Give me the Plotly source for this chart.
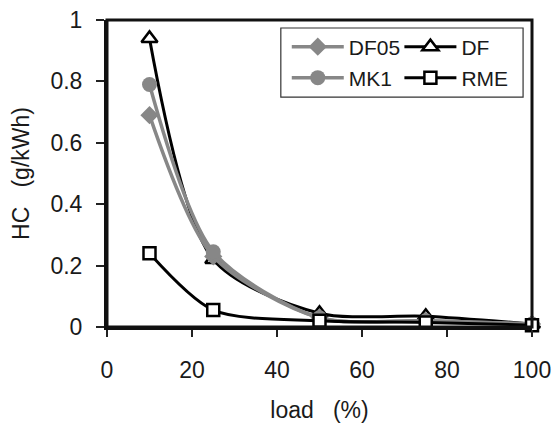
import plotly.graph_objects as go

load = [10, 25, 50, 75, 100]
df05 = [0.69, 0.23, 0.03, 0.02, 0.01]
df = [0.94, 0.22, 0.045, 0.035, 0.01]
mk1 = [0.79, 0.245, 0.03, 0.02, 0.01]
rme = [0.24, 0.055, 0.02, 0.015, 0.006]

x_ticks = [0, 20, 40, 60, 80, 100]
y_ticks = [0, 0.2, 0.4, 0.6, 0.8, 1]
y_tick_text = ["0", "0.2", "0.4", "0.6", "0.8", "1"]

GRAY = "#878787"
FONT = "Liberation Sans, Arial, sans-serif"
TXT = "#1a1a1a"

fig = go.Figure()
fig.add_trace(go.Scatter(x=load, y=df, name="DF", mode="lines+markers",
                         line=dict(color="black", width=3, shape="spline", smoothing=0.8),
                         marker=dict(symbol="triangle-up", size=14, color="white",
                                     line=dict(color="black", width=2.5)),
                         legend="legend2", cliponaxis=False))
fig.add_trace(go.Scatter(x=load, y=df05, name="DF05", mode="lines+markers",
                         line=dict(color=GRAY, width=3.5, shape="spline", smoothing=0.8),
                         marker=dict(symbol="diamond", size=14, color=GRAY),
                         legend="legend", cliponaxis=False))
fig.add_trace(go.Scatter(x=load, y=mk1, name="MK1", mode="lines+markers",
                         line=dict(color=GRAY, width=3.5, shape="spline", smoothing=0.8),
                         marker=dict(symbol="circle", size=15, color=GRAY),
                         legend="legend3", cliponaxis=False))
fig.add_trace(go.Scatter(x=load, y=rme, name="RME", mode="lines+markers",
                         line=dict(color="black", width=3, shape="spline", smoothing=0.8),
                         marker=dict(symbol="square", size=12, color="white",
                                     line=dict(color="black", width=2.5)),
                         legend="legend4", cliponaxis=False))

legend_common = dict(bgcolor="rgba(0,0,0,0)", borderwidth=0,
                     font=dict(family=FONT, size=21, color=TXT),
                     tracegroupgap=0, itemwidth=52,
                     xanchor="left", yanchor="middle")

col1 = 0.423
col2 = 0.688
row1 = 0.912
row2 = 0.811

# figure is a bit taller than the 428px window so the x title has room;
# the overflow below the window is hidden
fig.update_layout(
    width=555, height=440,
    margin=dict(l=107, r=23, t=20, b=113),
    paper_bgcolor="white", plot_bgcolor="white",
    font=dict(family=FONT, size=23, color=TXT),
    showlegend=True,
    legend=dict(x=col1, y=row1, **legend_common),
    legend2=dict(x=col2, y=row1, **legend_common),
    legend3=dict(x=col1, y=row2, **legend_common),
    legend4=dict(x=col2, y=row2, **legend_common),
    xaxis=dict(range=[0, 100], tickvals=x_ticks, ticks="outside", ticklen=7,
               tickwidth=1.5, tickcolor="#222", showline=True, linewidth=3,
               linecolor="#111", mirror=False, showgrid=False, zeroline=False,
               automargin="bottom", ticklabeloverflow="allow",
               tickfont=dict(size=23), ticklabelstandoff=13,
               title=dict(text="load\u00a0\u00a0\u00a0(%)", font=dict(size=23), standoff=21)),
    yaxis=dict(range=[0, 1], tickvals=y_ticks, ticktext=y_tick_text, ticks="outside",
               ticklen=8, tickwidth=1.5, tickcolor="#222", showline=True, linewidth=3,
               linecolor="#111", mirror=False, showgrid=False, zeroline=False,
               automargin="left", ticklabeloverflow="allow",
               tickfont=dict(size=23), ticklabelstandoff=9,
               title=dict(text="HC\u00a0\u00a0 (g/kWh)", font=dict(size=23), standoff=15)),
    shapes=[
        dict(type="rect", xref="paper", yref="paper", x0=0, x1=1, y0=0, y1=1,
             line=dict(color="#111", width=3), layer="above"),
        dict(type="rect", xref="paper", yref="paper", x0=0.409, x1=0.979,
             y0=0.749, y1=0.974, line=dict(color="#333", width=1.2)),
    ],
)

fig.write_html("out.html", config={"displayModeBar": False},
               post_script="document.body.style.margin='0';document.body.style.overflow='hidden';")
